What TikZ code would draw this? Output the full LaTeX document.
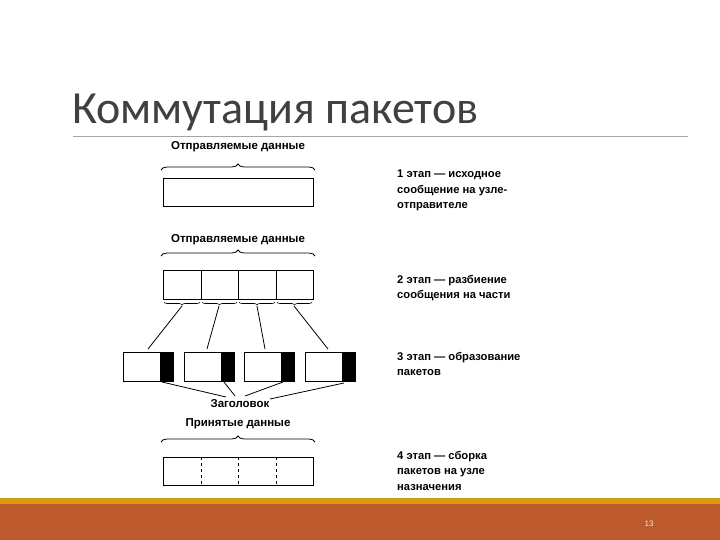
\documentclass[tikz,border=0pt]{standalone}
\usepackage{fontspec}
\setmainfont{Liberation Sans}
\newfontfamily\titlefont{Carlito}
\usetikzlibrary{decorations.pathreplacing}
\definecolor{orng}{HTML}{BC5A2E}
\definecolor{gold}{HTML}{DA9A12}
\begin{document}
\begin{tikzpicture}[x=1pt,y=-1pt,
  lbl/.style={font=\fontsize{11.5}{12}\selectfont\bfseries, inner sep=0pt},
  note/.style={font=\fontsize{11.2}{15.5}\selectfont\bfseries, inner sep=0pt, anchor=north west, align=left},
  bigbrace/.style={decorate, decoration={brace, amplitude=6pt}, line width=0.8pt},
  smallbrace/.style={decorate, decoration={brace, amplitude=3pt, mirror}, line width=0.6pt},
  box/.style={draw, line width=1pt},
  ln/.style={line width=0.8pt}]
\useasboundingbox (0,0) rectangle (720,540);
\fill[white] (0,0) rectangle (720,540);
% title
\node[anchor=base west, inner sep=0pt, font=\titlefont\fontsize{46}{50}\selectfont, text=black!75] (title) at (72,124) {Коммутация пакетов};
\draw[black!35, line width=0.8pt] (73,136) -- (688,136);
% bottom bar
\fill[gold] (0,498) rectangle (720,504);
\fill[orng] (0,504) rectangle (720,540);
\node[text=white!85!orng, font=\fontsize{8}{9}\selectfont] (pg) at (649,524) {13};

% stage 1
\node[lbl] (l1) at (238,147) {Отправляемые данные};
\node[box, minimum width=150pt, minimum height=28pt, anchor=north west, inner sep=0pt] (b1) at (163,178) {};
\draw[bigbrace] (161,170) -- (315,170);
% stage 2
\node[lbl] (l2) at (238,240) {Отправляемые данные};
\draw[bigbrace] (161,256) -- (315,256);
\node[box, minimum width=150pt, minimum height=29pt, anchor=north west, inner sep=0pt] (b2) at (163,270) {};
\draw[line width=1pt] (201,270) -- (201,299) (238,270) -- (238,299) (276,270) -- (276,299);
\draw[smallbrace] (164,302) -- (200,302);
\draw[smallbrace] (202,302) -- (237,302);
\draw[smallbrace] (239,302) -- (275,302);
\draw[smallbrace] (277,302) -- (312,302);
\coordinate (s1) at (182,306); \coordinate (s2) at (219,306);
\coordinate (s3) at (257,306); \coordinate (s4) at (294,306);
% packets
\foreach \i/\x in {1/123,2/184,3/244,4/305}{
  \node[box, minimum width=50pt, minimum height=29pt, anchor=north west, inner sep=0pt] (p\i) at (\x,352) {};
  \fill (\x+37,352) rectangle (\x+50,381);
}
\draw[ln] (s1) -- (148,349);
\draw[ln] (s2) -- (207,349);
\draw[ln] (s3) -- (265,349);
\draw[ln] (s4) -- (328,349);
\node[lbl] (hdr) at (240,404) {Заголовок};
\draw[ln] (162,382) -- (226,397);
\draw[ln] (224,382) -- (235,396);
\draw[ln] (283,382) -- (245,396);
\draw[ln] (344,383) -- (270,399);
% stage 4
\node[lbl] (l4) at (238,424) {Принятые данные};
\draw[bigbrace] (161,442) -- (315,442);
\node[box, minimum width=150pt, minimum height=28pt, anchor=north west, inner sep=0pt] (b4) at (163,457) {};
\draw[dashed, line width=0.8pt] (201,457) -- (201,485) (238,457) -- (238,485) (276,457) -- (276,485);
% notes
\node[note] (n1) at (397,170) {1 этап — исходное\\сообщение на узле-\\отправителе};
\node[note] (n2) at (397,275) {2 этап — разбиение\\сообщения на части};
\node[note] (n3) at (397,352) {3 этап — образование\\пакетов};
\node[note] (n4) at (397,451) {4 этап — сборка\\пакетов на узле\\назначения};
\end{tikzpicture}
\end{document}
